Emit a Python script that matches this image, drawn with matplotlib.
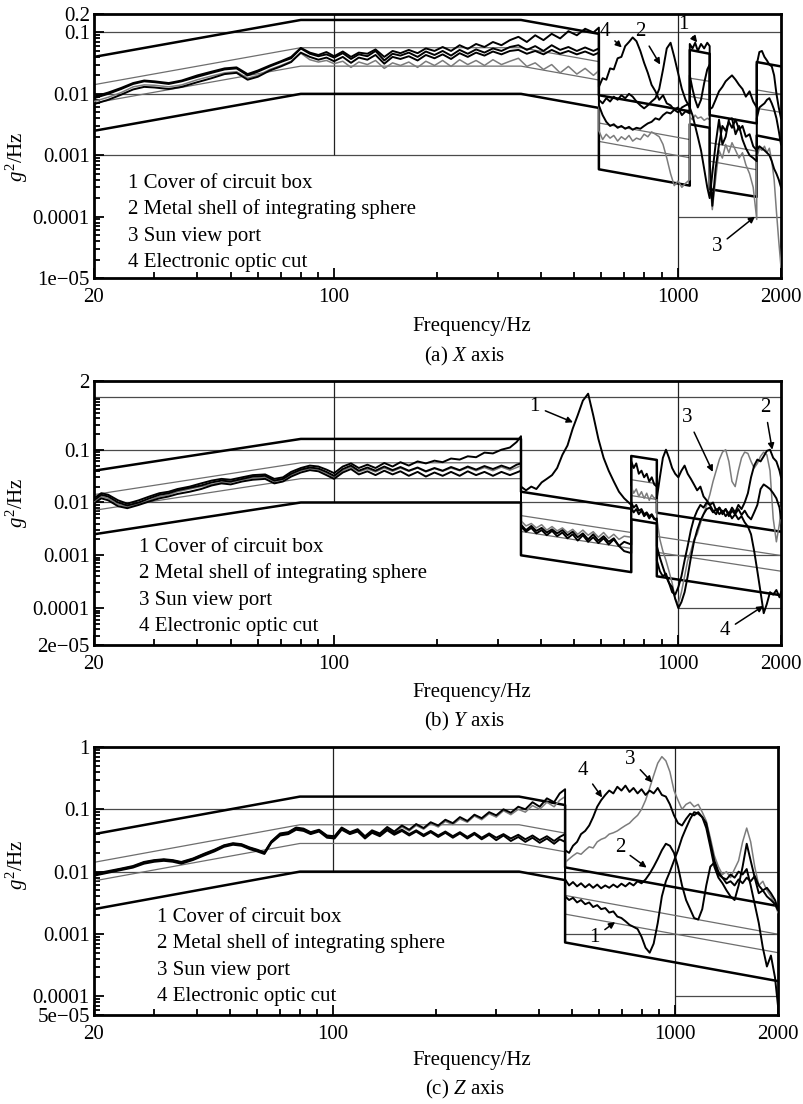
import numpy as np
import matplotlib
matplotlib.use('Agg')
import matplotlib.pyplot as plt
from matplotlib.ticker import FixedLocator, FixedFormatter, LogLocator, NullFormatter

plt.rcParams['font.family'] = ['Liberation Serif', 'DejaVu Serif']
plt.rcParams['mathtext.fontset'] = 'custom'
plt.rcParams['mathtext.rm'] = 'Liberation Serif'
plt.rcParams['mathtext.it'] = 'Liberation Serif:italic'
plt.rcParams['font.size'] = 15

W, H = 804, 1104

legend_lines = ['1 Cover of circuit box', '2 Metal shell of integrating sphere',
                '3 Sun view port', '4 Electronic optic cut']

### (a) X axis ###
xa_freq = [20, 22, 24, 26, 28, 30, 33, 36, 40, 44, 48, 52, 56, 60, 65, 70, 75, 80,
           85, 90, 95, 100, 106, 112, 118, 125, 132, 140, 148, 156, 165, 175, 185, 196, 207, 219,
           232, 245, 259, 274, 290, 307, 325, 344, 364, 385, 407, 430, 455, 481, 509, 538, 569, 590,
           590, 605, 620, 636, 652, 669, 686, 704, 722, 740, 759, 779, 799, 819, 840, 862, 884, 907,
           930, 954, 978, 1003, 1029, 1055, 1085,
           1085, 1105, 1125, 1145, 1170, 1195, 1220, 1240,
           1240, 1262, 1290, 1320, 1350, 1380, 1410, 1440, 1475, 1510, 1545, 1580, 1620, 1660, 1700,
           1700, 1730, 1760, 1790, 1820, 1850, 1880, 1910, 1940, 1970, 2000]
xa_c1 = [0.0085, 0.01, 0.012, 0.0145, 0.016, 0.0155, 0.0145, 0.016, 0.019, 0.022, 0.025, 0.026, 0.02, 0.023, 0.028, 0.033, 0.038, 0.055,
         0.045, 0.041, 0.044, 0.039, 0.046, 0.037, 0.044, 0.041, 0.05, 0.035, 0.045, 0.042, 0.047, 0.04, 0.049, 0.043, 0.05, 0.042,
         0.052, 0.045, 0.053, 0.047, 0.055, 0.05, 0.058, 0.062, 0.052, 0.06, 0.05, 0.062, 0.052, 0.058, 0.05, 0.057, 0.05, 0.055,
         0.0065, 0.0045, 0.0035, 0.003, 0.0032, 0.0028, 0.003, 0.0027, 0.0029, 0.0026, 0.0028, 0.0027, 0.003, 0.0033, 0.0035, 0.004, 0.0038, 0.0045,
         0.005, 0.0048, 0.0055, 0.005, 0.006, 0.0065, 0.007,
         0.065, 0.055, 0.068, 0.05, 0.065, 0.055, 0.068, 0.06,
         0.0008, 0.00015, 0.0006, 0.0015, 0.003, 0.0025, 0.0035, 0.0028, 0.0038, 0.0026, 0.003, 0.002, 0.0022, 0.0014, 0.0012,
         0.004, 0.006, 0.0065, 0.007, 0.008, 0.0085, 0.007, 0.0055, 0.004, 0.0025, 0.0015]
xa_c2 = [0.0068, 0.008, 0.0097, 0.0118, 0.013, 0.0127, 0.012, 0.013, 0.0155, 0.018, 0.021, 0.022, 0.017, 0.019, 0.024, 0.028, 0.033, 0.047,
         0.04, 0.036, 0.039, 0.034, 0.04, 0.032, 0.039, 0.036, 0.043, 0.031, 0.04, 0.037, 0.041, 0.035, 0.043, 0.038, 0.044, 0.037,
         0.046, 0.04, 0.047, 0.042, 0.049, 0.044, 0.05, 0.052, 0.045, 0.05, 0.044, 0.052, 0.045, 0.05, 0.044, 0.049, 0.043, 0.047,
         0.008, 0.007, 0.0085, 0.0075, 0.009, 0.008, 0.0095, 0.0085, 0.01, 0.009, 0.0075, 0.0065, 0.0058, 0.0065, 0.0075, 0.0085, 0.012, 0.025,
         0.055, 0.068, 0.04, 0.022, 0.012, 0.008, 0.006,
         0.006, 0.0045, 0.003, 0.002, 0.0012, 0.0006, 0.0003, 0.0002,
         0.0002, 0.0005, 0.0015, 0.0038, 0.0015, 0.002, 0.0038, 0.004, 0.0022, 0.003, 0.0018, 0.0013, 0.001, 0.0009, 0.0008,
         0.0012, 0.0014, 0.0013, 0.0012, 0.0011, 0.001, 0.0008, 0.0006, 0.0005, 0.0004, 0.0003]
xa_c3 = [0.0075, 0.0088, 0.0105, 0.013, 0.014, 0.0138, 0.013, 0.014, 0.017, 0.0195, 0.022, 0.023, 0.018, 0.02, 0.025, 0.029, 0.034, 0.046,
         0.036, 0.033, 0.035, 0.031, 0.034, 0.027, 0.033, 0.03, 0.035, 0.026, 0.032, 0.029, 0.033, 0.027, 0.034, 0.029, 0.035, 0.028,
         0.036, 0.03, 0.035, 0.029, 0.036, 0.03, 0.034, 0.038, 0.028, 0.032, 0.025, 0.03, 0.022, 0.028, 0.021, 0.026, 0.02, 0.024,
         0.0025, 0.0018, 0.0022, 0.0019, 0.0021, 0.0017, 0.002, 0.0018, 0.0021, 0.0017, 0.0019, 0.0018, 0.0022, 0.002, 0.0024, 0.0022, 0.002, 0.0015,
         0.0009, 0.0005, 0.00032, 0.00038, 0.0003, 0.00035, 0.0004,
         0.0042, 0.0038, 0.0045, 0.004, 0.0042, 0.0037, 0.004, 0.0038,
         0.0004, 0.00013, 0.0004, 0.0012, 0.0009, 0.0015, 0.0011, 0.0016, 0.0012, 0.0009, 0.0011, 0.0007, 0.0005, 0.0003, 0.00009,
         0.0009, 0.0013, 0.0012, 0.0014, 0.0011, 0.0013, 0.0008, 0.0004, 0.00012, 0.00004, 0.000015]
xa_c4 = [0.009, 0.0105, 0.0125, 0.015, 0.0165, 0.016, 0.015, 0.0165, 0.02, 0.023, 0.026, 0.027, 0.021, 0.024, 0.029, 0.034, 0.04, 0.056,
         0.047, 0.043, 0.048, 0.041, 0.049, 0.04, 0.047, 0.045, 0.053, 0.04, 0.05, 0.046, 0.052, 0.046, 0.055, 0.05, 0.058, 0.05,
         0.062, 0.054, 0.065, 0.058, 0.07, 0.062, 0.075, 0.085, 0.07, 0.09, 0.075, 0.095, 0.08, 0.105, 0.09, 0.115, 0.1, 0.12,
         0.013, 0.018, 0.017, 0.026, 0.025, 0.038, 0.04, 0.06, 0.07, 0.083, 0.072, 0.05, 0.032, 0.022, 0.014, 0.011, 0.008, 0.0095,
         0.007, 0.0065, 0.0055, 0.006, 0.0045, 0.0052, 0.0048,
         0.02, 0.012, 0.008, 0.006, 0.008, 0.015, 0.025, 0.03,
         0.0056, 0.006, 0.008, 0.011, 0.013, 0.016, 0.018, 0.02, 0.017, 0.014, 0.012, 0.009, 0.011, 0.0075, 0.006,
         0.03, 0.048, 0.05, 0.04, 0.035, 0.03, 0.028, 0.02, 0.01, 0.006, 0.004]
# test profile limits (thick) and alarm lines (thin grey)
xa_lim_f = [20, 80, 350, 590, 590, 1085, 1085, 1240, 1240, 1700, 1700, 2000]
xa_abort_hi = [0.04, 0.16, 0.16, 0.095, 0.0095, 0.0052, 0.052, 0.045, 0.0045, 0.0033, 0.033, 0.028]
xa_abort_lo = [0.0025, 0.01, 0.01, 0.0059, 0.00059, 0.00032, 0.0032, 0.0028, 0.00028, 0.00021, 0.0021, 0.00175]
xa_alarm_hi = [0.0141, 0.0565, 0.0565, 0.0335, 0.00335, 0.0018, 0.018, 0.016, 0.0016, 0.00116, 0.0116, 0.0099]
xa_alarm_lo = [0.0071, 0.0283, 0.0283, 0.0168, 0.00168, 0.00091, 0.0091, 0.008, 0.0008, 0.00058, 0.0058, 0.005]

### (b) Y axis ###
yb_freq = [20, 21, 22, 23.5, 25, 27, 29, 31, 33, 35, 38, 41, 44, 47, 50, 54, 58, 63, 67, 71, 75, 80, 85, 90, 95,
           100, 106, 112, 118, 125, 132, 140, 148, 156, 165, 175, 185, 196, 207, 219, 232, 245, 259, 274, 290,
           307, 325, 340, 350,
           350, 362, 375, 388, 402, 416, 431, 446, 462, 478, 495, 512, 530, 549, 568, 588, 609, 630, 652, 675, 699, 733,
           733, 745, 758, 771, 785, 799, 813, 827, 841, 855, 870,
           870, 888, 906, 925, 944, 964, 984, 1005, 1026, 1048, 1070, 1093, 1116, 1140, 1165, 1190, 1215, 1241, 1268,
           1295, 1323, 1351, 1380, 1410, 1440, 1471, 1503, 1535, 1568, 1602, 1636, 1671, 1707, 1744, 1781, 1819,
           1858, 1898, 1939, 1980, 2000]
yb_c1 = [0.012, 0.015, 0.014, 0.011, 0.0095, 0.011, 0.013, 0.015, 0.016, 0.018, 0.02, 0.023, 0.026, 0.028, 0.027,
         0.03, 0.033, 0.034, 0.028, 0.03, 0.038, 0.045, 0.05, 0.048, 0.042, 0.036, 0.048, 0.055, 0.045, 0.052,
         0.045, 0.056, 0.048, 0.058, 0.05, 0.06, 0.055, 0.062, 0.058, 0.068, 0.065, 0.075, 0.072, 0.088, 0.085,
         0.1, 0.11, 0.14, 0.18,
         0.02, 0.017, 0.02, 0.018, 0.024, 0.028, 0.033, 0.045, 0.08, 0.12, 0.25, 0.45, 0.85, 1.15, 0.45, 0.16,
         0.07, 0.04, 0.025, 0.016, 0.012, 0.009,
         0.06, 0.045, 0.055, 0.035, 0.04, 0.03, 0.035, 0.025, 0.03, 0.022, 0.02,
         0.012, 0.03, 0.07, 0.1, 0.07, 0.045, 0.035, 0.03, 0.04, 0.05, 0.035, 0.028, 0.022, 0.017, 0.02, 0.013,
         0.011, 0.009, 0.01, 0.007, 0.008, 0.006, 0.0075, 0.0055, 0.007, 0.006, 0.0075, 0.0058, 0.007, 0.0055,
         0.0048, 0.0065, 0.009, 0.018, 0.022, 0.02, 0.018, 0.015, 0.012, 0.008, 0.005]
yb_c2 = [0.0095, 0.012, 0.011, 0.0085, 0.0078, 0.009, 0.0105, 0.012, 0.013, 0.0145, 0.016, 0.018, 0.021, 0.023, 0.022,
         0.025, 0.027, 0.028, 0.023, 0.025, 0.031, 0.037, 0.041, 0.039, 0.033, 0.028, 0.037, 0.043, 0.034, 0.039,
         0.033, 0.04, 0.034, 0.039, 0.032, 0.038, 0.031, 0.037, 0.032, 0.038, 0.032, 0.039, 0.033, 0.038, 0.032,
         0.038, 0.033, 0.037, 0.04,
         0.0035, 0.0028, 0.0033, 0.0026, 0.003, 0.0024, 0.0029, 0.0023, 0.0027, 0.0021, 0.0025, 0.0019, 0.0024,
         0.0018, 0.0022, 0.0017, 0.0021, 0.0016, 0.002, 0.0015, 0.0018, 0.0016,
         0.008, 0.0065, 0.0075, 0.006, 0.007, 0.0055, 0.0062, 0.005, 0.0058, 0.0048, 0.005,
         0.0015, 0.0009, 0.0006, 0.0004, 0.0003, 0.0002, 0.00018, 0.00025, 0.0004, 0.0008, 0.0015, 0.003, 0.005,
         0.007, 0.009, 0.008, 0.01, 0.009, 0.007, 0.006, 0.008, 0.0065, 0.0075, 0.006, 0.008, 0.0065, 0.009,
         0.0075, 0.01, 0.015, 0.03, 0.05, 0.065, 0.06, 0.075, 0.095, 0.1, 0.07, 0.06, 0.04, 0.03]
yb_c3 = [0.01, 0.013, 0.012, 0.0092, 0.0083, 0.0095, 0.011, 0.013, 0.014, 0.016, 0.018, 0.02, 0.022, 0.024, 0.024,
         0.027, 0.029, 0.03, 0.025, 0.027, 0.033, 0.04, 0.044, 0.042, 0.036, 0.03, 0.04, 0.047, 0.038, 0.043,
         0.038, 0.045, 0.039, 0.045, 0.039, 0.045, 0.038, 0.044, 0.039, 0.045, 0.04, 0.046, 0.04, 0.046, 0.04,
         0.047, 0.041, 0.046, 0.05,
         0.0045, 0.0036, 0.004, 0.0033, 0.0038, 0.003, 0.0035, 0.0029, 0.0033, 0.0027, 0.0031, 0.0025, 0.003,
         0.0024, 0.0028, 0.0022, 0.0027, 0.0021, 0.0025, 0.002, 0.0023, 0.0022,
         0.02, 0.015, 0.018, 0.013, 0.016, 0.012, 0.015, 0.011, 0.014, 0.012, 0.013,
         0.005, 0.002, 0.0012, 0.0008, 0.0005, 0.0003, 0.00015, 0.00012, 0.0002, 0.0004, 0.0008, 0.0012, 0.002,
         0.0025, 0.004, 0.006, 0.009, 0.014, 0.025, 0.04, 0.065, 0.09, 0.1, 0.06, 0.025, 0.02, 0.04, 0.07, 0.09,
         0.085, 0.06, 0.045, 0.055, 0.075, 0.09, 0.08, 0.04, 0.005, 0.0018, 0.004, 0.008]
yb_c4 = [0.011, 0.014, 0.013, 0.01, 0.0088, 0.01, 0.012, 0.014, 0.015, 0.017, 0.019, 0.021, 0.024, 0.026, 0.025,
         0.028, 0.031, 0.032, 0.026, 0.028, 0.035, 0.042, 0.046, 0.044, 0.038, 0.032, 0.043, 0.05, 0.04, 0.046,
         0.04, 0.048, 0.041, 0.047, 0.04, 0.046, 0.039, 0.045, 0.04, 0.047, 0.041, 0.048, 0.042, 0.049, 0.043,
         0.05, 0.044, 0.052, 0.055,
         0.0038, 0.003, 0.0036, 0.0029, 0.0033, 0.0027, 0.0031, 0.0026, 0.003, 0.0024, 0.0028, 0.0022, 0.0026,
         0.002, 0.0025, 0.0019, 0.0023, 0.0018, 0.0021, 0.0015, 0.0012, 0.0011,
         0.01, 0.008, 0.009, 0.007, 0.0075, 0.006, 0.0065, 0.0055, 0.006, 0.005, 0.0045,
         0.0008, 0.0005, 0.0004, 0.00045, 0.0003, 0.00025, 0.00015, 0.0001, 0.00013, 0.0002, 0.0004, 0.0009,
         0.0018, 0.003, 0.0045, 0.006, 0.0075, 0.008, 0.0065, 0.0075, 0.006, 0.007, 0.0055, 0.0065, 0.005,
         0.006, 0.0048, 0.0055, 0.0042, 0.0035, 0.0025, 0.0012, 0.0005, 0.0002, 0.00008, 0.00012, 0.0002,
         0.00018, 0.00022, 0.00016, 0.0002]
yb_lim_f = [20, 80, 350, 350, 733, 733, 870, 870, 2000]
yb_abort_hi = [0.04, 0.16, 0.16, 0.016, 0.0076, 0.076, 0.064, 0.0064, 0.0028]
yb_abort_lo = [0.0025, 0.01, 0.01, 0.001, 0.00048, 0.0048, 0.004, 0.0004, 0.000175]
yb_alarm_hi = [0.0141, 0.0565, 0.0565, 0.00565, 0.0027, 0.027, 0.0227, 0.00227, 0.00099]
yb_alarm_lo = [0.0071, 0.0283, 0.0283, 0.00283, 0.00135, 0.0135, 0.0114, 0.00114, 0.0005]

### (c) Z axis ###
zc_freq = [20, 22, 24, 26, 28, 30, 32, 34, 36, 39, 42, 45, 48, 51, 54, 57, 60, 63, 66, 70, 74, 78, 82, 86, 91,
           96, 101, 106, 112, 118, 124, 130, 137, 144, 151, 159, 167, 175, 184, 193, 203, 213, 224, 235, 247,
           259, 272, 286, 300, 315, 331, 348, 365, 383, 402, 422, 443, 460, 477,
           477, 490, 503, 517, 531, 546, 561, 576, 592, 608, 625, 642, 660, 678, 697, 716, 736, 756, 777, 798,
           820, 843, 866, 890, 915, 940, 966, 993, 1020, 1048, 1077, 1107, 1137, 1169, 1201, 1234, 1268, 1303,
           1339, 1376, 1414, 1453, 1493, 1534, 1576, 1620, 1664, 1710, 1757, 1806, 1856, 1907, 1960, 2000]
zc_c1 = [0.0086, 0.0096, 0.0106, 0.0116, 0.0134, 0.0144, 0.0149, 0.0144, 0.0134, 0.0154, 0.0182, 0.0211, 0.025,
         0.027, 0.026, 0.023, 0.0211, 0.0192, 0.029, 0.038, 0.04, 0.047, 0.045, 0.04, 0.044, 0.035, 0.034, 0.047,
         0.04, 0.044, 0.034, 0.042, 0.037, 0.046, 0.039, 0.045, 0.038, 0.044, 0.037, 0.043, 0.036, 0.042, 0.035,
         0.041, 0.034, 0.04, 0.033, 0.039, 0.032, 0.038, 0.031, 0.036, 0.03, 0.035, 0.029, 0.034, 0.028, 0.033, 0.03,
         0.004, 0.0035, 0.0038, 0.0032, 0.0035, 0.003, 0.0032, 0.0027, 0.0029, 0.0025, 0.0026, 0.0022, 0.0023,
         0.0019, 0.0018, 0.0016, 0.0014, 0.0013, 0.0012, 0.0009, 0.0006, 0.0005, 0.0007, 0.0015, 0.004, 0.007,
         0.01, 0.015, 0.022, 0.035, 0.05, 0.07, 0.09, 0.085, 0.075, 0.06, 0.03, 0.015, 0.01, 0.008, 0.0075, 0.009,
         0.008, 0.01, 0.009, 0.011, 0.006, 0.003, 0.0015, 0.0006, 0.0003, 0.00045, 0.0002, 0.00007]
zc_c2 = [0.0089, 0.0099, 0.011, 0.012, 0.014, 0.015, 0.0155, 0.015, 0.014, 0.016, 0.019, 0.022, 0.026, 0.028, 0.027,
         0.024, 0.022, 0.02, 0.03, 0.04, 0.042, 0.05, 0.047, 0.042, 0.046, 0.037, 0.036, 0.05, 0.042, 0.046, 0.036,
         0.044, 0.039, 0.048, 0.041, 0.047, 0.04, 0.046, 0.039, 0.045, 0.038, 0.044, 0.037, 0.043, 0.036, 0.042,
         0.035, 0.041, 0.035, 0.04, 0.034, 0.039, 0.033, 0.038, 0.032, 0.037, 0.031, 0.036, 0.04,
         0.0075, 0.006, 0.0068, 0.0058, 0.0065, 0.0056, 0.0063, 0.0055, 0.0062, 0.0054, 0.006, 0.0055, 0.0062,
         0.0056, 0.0064, 0.0058, 0.0066, 0.006, 0.007, 0.0065, 0.0075, 0.0093, 0.012, 0.016, 0.022, 0.028, 0.026,
         0.02, 0.012, 0.006, 0.0035, 0.0025, 0.0018, 0.0017, 0.0025, 0.006, 0.012, 0.014, 0.009, 0.008, 0.0065,
         0.007, 0.006, 0.0075, 0.0065, 0.008, 0.007, 0.0085, 0.006, 0.005, 0.0055, 0.0045, 0.0035, 0.0025]
zc_c3 = [0.0088, 0.0098, 0.0108, 0.0118, 0.0137, 0.0147, 0.0152, 0.0147, 0.0137, 0.0157, 0.0186, 0.0216, 0.0255,
         0.0275, 0.0265, 0.0235, 0.0216, 0.0196, 0.0294, 0.039, 0.041, 0.048, 0.046, 0.041, 0.045, 0.036, 0.035,
         0.048, 0.041, 0.045, 0.035, 0.044, 0.039, 0.049, 0.042, 0.052, 0.045, 0.055, 0.048, 0.059, 0.052, 0.064,
         0.057, 0.07, 0.062, 0.078, 0.068, 0.085, 0.075, 0.095, 0.082, 0.1, 0.09, 0.115, 0.1, 0.13, 0.11, 0.14, 0.16,
         0.014, 0.016, 0.018, 0.02, 0.019, 0.022, 0.025, 0.024, 0.03, 0.033, 0.035, 0.04, 0.042, 0.045, 0.05, 0.055,
         0.06, 0.07, 0.08, 0.1, 0.14, 0.22, 0.35, 0.55, 0.7, 0.6, 0.4, 0.2, 0.14, 0.1, 0.12, 0.13, 0.11, 0.12, 0.09,
         0.065, 0.035, 0.018, 0.012, 0.009, 0.01, 0.008, 0.011, 0.015, 0.03, 0.05, 0.03, 0.012, 0.006, 0.007,
         0.005, 0.004, 0.003, 0.0022]
zc_c4 = [0.0092, 0.0102, 0.0112, 0.0123, 0.0143, 0.0153, 0.0158, 0.0153, 0.0143, 0.0163, 0.0194, 0.0225, 0.0265,
         0.0286, 0.0276, 0.0245, 0.0225, 0.0204, 0.0306, 0.041, 0.043, 0.051, 0.049, 0.043, 0.047, 0.038, 0.037,
         0.051, 0.043, 0.048, 0.037, 0.046, 0.041, 0.052, 0.044, 0.055, 0.047, 0.058, 0.05, 0.062, 0.055, 0.068,
         0.06, 0.075, 0.065, 0.082, 0.072, 0.09, 0.08, 0.1, 0.088, 0.11, 0.1, 0.13, 0.11, 0.15, 0.13, 0.18, 0.21,
         0.022, 0.02, 0.026, 0.03, 0.04, 0.045, 0.055, 0.075, 0.11, 0.14, 0.17, 0.2, 0.18, 0.23, 0.2, 0.24, 0.19,
         0.22, 0.18, 0.21, 0.17, 0.2, 0.18, 0.22, 0.17, 0.16, 0.12, 0.08, 0.06, 0.055, 0.07, 0.085, 0.08, 0.09,
         0.075, 0.05, 0.025, 0.012, 0.008, 0.0065, 0.005, 0.004, 0.0035, 0.006, 0.012, 0.028, 0.015, 0.008, 0.0045,
         0.005, 0.004, 0.0035, 0.003, 0.0024]
zc_lim_f = [20, 80, 350, 477, 477, 2000]
zc_abort_hi = [0.04, 0.16, 0.16, 0.117, 0.0117, 0.0028]
zc_abort_lo = [0.0025, 0.01, 0.01, 0.0073, 0.00073, 0.000175]
zc_alarm_hi = [0.0141, 0.0565, 0.0565, 0.0415, 0.00415, 0.00099]
zc_alarm_lo = [0.0071, 0.0283, 0.0283, 0.0208, 0.00208, 0.0005]


def px(x, y):
    # picture pixels -> figure fraction
    return x / W, 1 - y / H


def draw_panel(ax, freq, c1, c2, c3, c4, lim_f, abort_hi, abort_lo, alarm_hi, alarm_lo,
               ylim, yticks, ylabels, hgrid, vgrid, notes):
    ax.set_xscale('log')
    ax.set_yscale('log')
    ax.set_xlim(20, 2000)
    ax.set_ylim(*ylim)

    for y, x0 in hgrid:
        ax.hlines(y, x0, 2000, color='#4a4a4a', lw=0.9, zorder=1)
    for x, y0, y1 in vgrid:
        ax.vlines(x, y0, y1, color='#222222', lw=0.9, zorder=1)

    ax.plot(lim_f, alarm_hi, color='#6e6e6e', lw=0.9, zorder=2)
    ax.plot(lim_f, alarm_lo, color='#6e6e6e', lw=0.9, zorder=2)
    ax.plot(lim_f, abort_hi, color='k', lw=1.8, zorder=3)
    ax.plot(lim_f, abort_lo, color='k', lw=1.8, zorder=3)

    ax.plot(freq, c3, color='#7c7c7c', lw=1.1, zorder=4)
    for c in (c2, c1, c4):
        ax.plot(freq, c, color='k', lw=1.4, zorder=5)

    for txt, (tx, ty), (hx, hy) in notes:
        ax.annotate(txt, xy=(hx, hy), xytext=(tx, ty), ha='center', va='center', fontsize=15, zorder=6,
                    arrowprops=dict(arrowstyle='-|>', color='k', lw=1.1, mutation_scale=9,
                                    shrinkA=2, shrinkB=0))

    ax.yaxis.set_major_locator(FixedLocator(yticks))
    ax.yaxis.set_major_formatter(FixedFormatter(ylabels))
    ax.yaxis.set_minor_locator(LogLocator(base=10, subs=np.arange(2, 10), numticks=20))
    ax.yaxis.set_minor_formatter(NullFormatter())
    ax.xaxis.set_major_locator(FixedLocator([20, 100, 1000, 2000]))
    ax.xaxis.set_major_formatter(FixedFormatter(['20', '100', '1000', '2000']))
    ax.xaxis.set_minor_locator(LogLocator(base=10, subs=np.arange(2, 10), numticks=20))
    ax.xaxis.set_minor_formatter(NullFormatter())
    ax.tick_params(which='both', direction='in', top=False, right=False, width=1.3)
    ax.tick_params(which='major', length=7, labelsize=15)
    ax.tick_params(which='minor', length=4)
    ax.tick_params(axis='y', pad=3)
    ax.tick_params(axis='x', pad=7)
    for s in ax.spines.values():
        s.set_linewidth(2.0)


fig = plt.figure(figsize=(W / 100, H / 100), dpi=100)


def axes_box(l, t, r, b):
    return [l / W, 1 - b / H, (r - l) / W, (b - t) / H]


ax_a = fig.add_axes(axes_box(94, 14, 781, 278))
ax_b = fig.add_axes(axes_box(94, 381, 781, 645))
ax_c = fig.add_axes(axes_box(94, 747, 778, 1015))

draw_panel(ax_a, xa_freq, xa_c1, xa_c2, xa_c3, xa_c4, xa_lim_f,
           xa_abort_hi, xa_abort_lo, xa_alarm_hi, xa_alarm_lo,
           (1e-5, 0.2), [1e-5, 1e-4, 1e-3, 1e-2, 0.1, 0.2],
           ['1e\u221205', '0.0001', '0.001', '0.01', '0.1', '0.2'],
           [(0.1, 20), (0.01, 20), (0.001, 20), (0.0001, 1000)],
           [(100, 0.001, 0.2), (1000, 1e-5, 0.2)],
           [('4', (614, 0.104), (688, 0.057)), ('2', (779, 0.104), (890, 0.03)),
            ('1', (1038, 0.135), (1140, 0.069)), ('3', (1302, 3.2e-5), (1680, 1.0e-4))])

draw_panel(ax_b, yb_freq, yb_c1, yb_c2, yb_c3, yb_c4, yb_lim_f,
           yb_abort_hi, yb_abort_lo, yb_alarm_hi, yb_alarm_lo,
           (2e-5, 2), [2e-5, 1e-4, 1e-3, 1e-2, 0.1, 2],
           ['2e\u221205', '0.0001', '0.001', '0.01', '0.1', '2'],
           [(1, 20), (0.1, 20), (0.01, 20), (0.001, 870), (0.0001, 1000)],
           [(100, 0.01, 2), (1000, 2e-5, 2)],
           [('1', (384, 0.66), (496, 0.33)), ('3', (1066, 0.41), (1266, 0.038)),
            ('2', (1796, 0.63), (1886, 0.1)), ('4', (1374, 3.7e-5), (1778, 1.1e-4))])

draw_panel(ax_c, zc_freq, zc_c1, zc_c2, zc_c3, zc_c4, zc_lim_f,
           zc_abort_hi, zc_abort_lo, zc_alarm_hi, zc_alarm_lo,
           (5e-5, 1), [5e-5, 1e-4, 1e-3, 1e-2, 0.1, 1],
           ['5e\u221205', '0.0001', '0.001', '0.01', '0.1', '1'],
           [(0.1, 20), (0.01, 20), (0.001, 477), (0.0001, 1000)],
           [(100, 0.01, 1), (1000, 5e-5, 1)],
           [('4', (538, 0.42), (612, 0.155)), ('3', (740, 0.64), (857, 0.27)),
            ('2', (690, 0.024), (826, 0.0116)), ('1', (582, 0.00089), (668, 0.00155))])

# legend texts, axis titles and captions
for (lx, ly0), ax_y, fx_y, cap_y, cap in [((128, 183), 157, 326, 356, r'(a) $X$ axis'),
                                          ((139, 547), 503, 693, 721, r'(b) $Y$ axis'),
                                          ((157, 917), 865, 1061, 1089, r'(c) $Z$ axis')]:
    for i, line in enumerate(legend_lines):
        fig.text(*px(lx, ly0 + i * 26.5), line, ha='left', va='center', fontsize=15)
    fig.text(*px(17, ax_y), r'$g^{2}$/Hz', rotation=90, ha='center', va='center', fontsize=15)
    fig.text(*px(472, fx_y), 'Frequency/Hz', ha='center', va='center', fontsize=15)
    fig.text(*px(465, cap_y), cap, ha='center', va='center', fontsize=15)

fig.savefig('out.png', dpi=100)
